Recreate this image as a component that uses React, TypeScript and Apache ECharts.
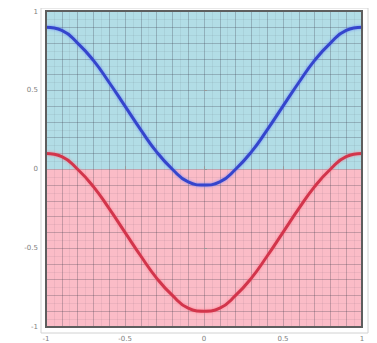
import React, { useEffect, useRef } from "react";
import * as echarts from "echarts";

// Sample positions along x
const xValues = [-1, -0.9, -0.8, -0.7, -0.6, -0.5, -0.4, -0.3, -0.2, -0.1, 0, 0.1, 0.2, 0.3, 0.4, 0.5, 0.6, 0.7, 0.8, 0.9, 1];
// Upper (blue) curve
const blueValues = [0.9, 0.88, 0.8, 0.69, 0.55, 0.4, 0.25, 0.11, 0.0, -0.08, -0.1, -0.08, 0.0, 0.11, 0.25, 0.4, 0.55, 0.69, 0.8, 0.88, 0.9];
// Lower (red) curve
const redValues = [0.1, 0.08, 0.0, -0.11, -0.25, -0.4, -0.55, -0.69, -0.8, -0.88, -0.9, -0.88, -0.8, -0.69, -0.55, -0.4, -0.25, -0.11, 0.0, 0.08, 0.1];
// Tick labels
const tickValues = [-1, -0.5, 0, 0.5, 1];
// Shaded bands: [from, to]
const upperBand = [0, 1];
const lowerBand = [-1, 0];

const GRID = { left: 38, top: 3, width: 316, height: 316 };

const fmt = (v: number) => {
  const r = Math.round(v * 10) / 10;
  return tickValues.some((t) => Math.abs(t - r) < 1e-6) ? String(r) : "";
};

export default function App() {
  const ref = useRef<HTMLDivElement>(null);

  useEffect(() => {
    if (!ref.current) return;
    const chart = echarts.init(ref.current, null, { renderer: "svg" });

    const gridAxis = {
      type: "value" as const,
      min: -1,
      max: 1,
      interval: 0.1,
      z: 5,
      axisLine: { show: false },
      axisTick: { show: false },
      axisLabel: { show: false },
      splitLine: { show: true, lineStyle: { color: "rgba(60,60,75,0.28)", width: 1 } },
      minorTick: { show: false, splitNumber: 2 },
      minorSplitLine: { show: true, lineStyle: { color: "rgba(60,60,75,0.07)", width: 1 } },
    };

    const labelAxis = {
      type: "value" as const,
      min: -1,
      max: 1,
      interval: 0.5,
      offset: 5,
      z: 6,
      axisLine: { show: false },
      axisTick: { show: true, inside: true, length: 3, lineStyle: { color: "#999" } },
      splitLine: { show: false },
      axisLabel: {
        show: true,
        showMinLabel: true,
        showMaxLabel: true,
        color: "#808080",
        fontSize: 7,
        fontFamily: "DejaVu Sans",
        margin: 3,
        formatter: fmt,
      },
    };

    const line = (data: number[], color: string, glow: string) => ({
      type: "line",
      xAxisIndex: 0,
      yAxisIndex: 0,
      data: xValues.map((x, i) => [x, data[i]]),
      smooth: true,
      showSymbol: false,
      z: 10,
      lineStyle: { color, width: 3, shadowColor: glow, shadowBlur: 3 },
    });

    chart.setOption({
      animation: false,
      grid: { ...GRID, show: false },
      xAxis: [
        { ...gridAxis, position: "bottom" },
        { ...labelAxis, position: "bottom" },
      ],
      yAxis: [
        { ...gridAxis, position: "left" },
        { ...labelAxis, position: "left" },
      ],
      graphic: [
        {
          type: "rect",
          z: 100,
          shape: { x: GRID.left - 5, y: GRID.top - 3, width: GRID.width + 11, height: GRID.height + 9 },
          style: { fill: "none", stroke: "#d2d2d2", lineWidth: 1 },
        },
        {
          type: "rect",
          z: 100,
          shape: { x: GRID.left, y: GRID.top, width: GRID.width, height: GRID.height },
          style: { fill: "none", stroke: "#5e5e5e", lineWidth: 2 },
        },
      ],
      series: [
        {
          type: "line",
          data: [],
          z: 1,
          markArea: {
            silent: true,
            data: [
              [{ yAxis: upperBand[0], itemStyle: { color: "#b2dde6" } }, { yAxis: upperBand[1] }],
              [{ yAxis: lowerBand[0], itemStyle: { color: "#fbbcc7" } }, { yAxis: lowerBand[1] }],
            ],
          },
        },
        line(blueValues, "#3445cc", "rgba(90,120,255,0.7)"),
        line(redValues, "#d2344c", "rgba(255,110,130,0.7)"),
      ],
    });

    return () => chart.dispose();
  }, []);

  return <div ref={ref} style={{ width: 369, height: 335 }} />;
}
